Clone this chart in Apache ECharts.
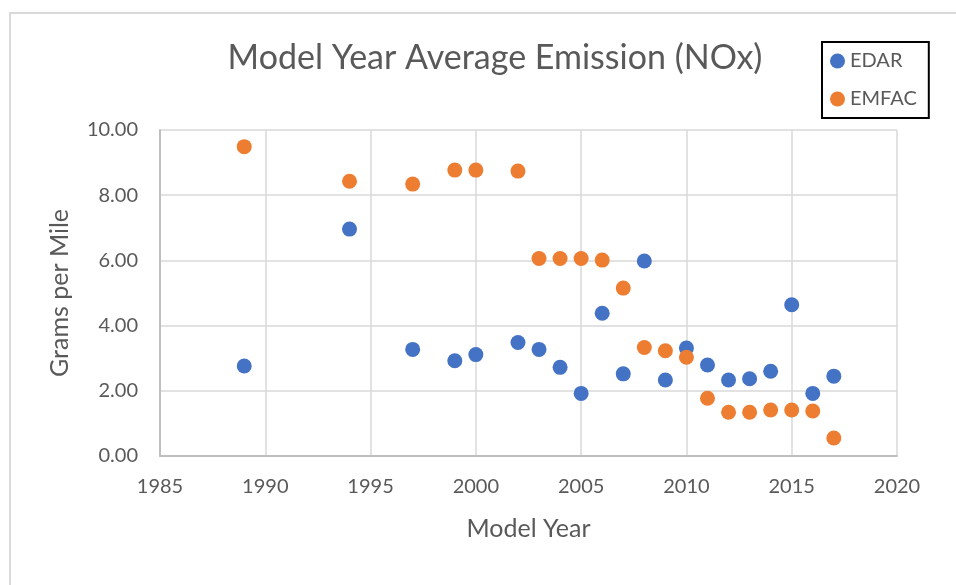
<!DOCTYPE html>
<html>
<head>
<meta charset="utf-8">
<script src="https://cdn.jsdelivr.net/npm/echarts@6/dist/echarts.min.js"></script>
<style>
  html, body { margin: 0; padding: 0; background: #fff; }
  #chart { width: 956px; height: 585px; }
</style>
</head>
<body>
<div id="chart"></div>
<script>
// model years and average NOx (g/mi)
const edarYears = [1989, 1994, 1997, 1999, 2000, 2002, 2003, 2004, 2005, 2006, 2007, 2008, 2009, 2010, 2011, 2012, 2013, 2014, 2015, 2016, 2017]
const edarValues = [2.76, 6.96, 3.27, 2.92, 3.11, 3.48, 3.27, 2.72, 1.92, 4.38, 2.52, 5.98, 2.33, 3.31, 2.79, 2.33, 2.37, 2.60, 4.64, 1.92, 2.45]

const emfacYears = [1989, 1994, 1997, 1999, 2000, 2002, 2003, 2004, 2005, 2006, 2007, 2008, 2009, 2010, 2011, 2012, 2013, 2014, 2015, 2016, 2017]
const emfacValues = [9.49, 8.43, 8.34, 8.77, 8.77, 8.74, 6.06, 6.06, 6.06, 6.01, 5.15, 3.33, 3.23, 3.03, 1.77, 1.34, 1.34, 1.41, 1.41, 1.38, 0.55]

const seriesNames = ['EDAR', 'EMFAC']

const textColor = '#595959'
const fontFamily = 'Lato, "Open Sans", sans-serif'

function pairs(xs, ys) {
  return xs.map((x, i) => [x, ys[i]])
}

const chart = echarts.init(document.getElementById('chart'))
chart.setOption({
  animation: false,
  backgroundColor: '#fff',
  color: ['#4472C4', '#ED7D31'],
  textStyle: { fontFamily: fontFamily },
  title: {
    text: 'Model Year Average Emission (NOx)',
    left: 490,
    top: 36,
    textAlign: 'center',
    textStyle: { color: textColor, fontSize: 34, fontWeight: 'normal', fontFamily: fontFamily }
  },
  legend: {
    data: seriesNames,
    orient: 'vertical',
    left: 822,
    top: 42,
    width: 106,
    padding: [9, 12, 9, 8],
    itemGap: 18,
    itemWidth: 15,
    itemHeight: 15,
    borderColor: '#000',
    borderWidth: 2,
    textStyle: { color: textColor, fontSize: 20, fontFamily: fontFamily }
  },
  graphic: [
    {
      type: 'polyline',
      shape: { points: [[10, 585], [10, 13], [956, 13]] },
      style: { stroke: '#d9d9d9', lineWidth: 2, fill: null },
      silent: true
    }
  ],
  grid: {
    left: 160,
    right: 59,
    top: 130,
    bottom: 129
  },
  xAxis: {
    type: 'value',
    min: 1985,
    max: 2020,
    interval: 5,
    name: 'Model Year',
    nameLocation: 'middle',
    nameGap: 60,
    nameTextStyle: { color: textColor, fontSize: 25, fontFamily: fontFamily },
    axisLine: { show: true, lineStyle: { color: '#bfbfbf', width: 2 } },
    axisTick: { show: false },
    axisLabel: { color: textColor, fontSize: 20, margin: 21, fontFamily: fontFamily, formatter: v => String(v) },
    splitLine: { show: true, lineStyle: { color: '#d9d9d9', width: 1.5 } }
  },
  yAxis: {
    type: 'value',
    min: 0,
    max: 10,
    interval: 2,
    name: 'Grams per Mile',
    nameLocation: 'middle',
    nameGap: 88,
    nameTextStyle: { color: textColor, fontSize: 25, fontFamily: fontFamily },
    axisLine: { show: true, lineStyle: { color: '#bfbfbf', width: 2 } },
    axisTick: { show: false },
    axisLabel: {
      color: textColor,
      fontSize: 20,
      margin: 22,
      fontFamily: fontFamily,
      formatter: v => v.toFixed(2)
    },
    splitLine: { show: true, lineStyle: { color: '#d9d9d9', width: 1.5 } }
  },
  series: [
    {
      name: seriesNames[0],
      type: 'scatter',
      symbol: 'circle',
      symbolSize: 15,
      itemStyle: { opacity: 1 },
      data: pairs(edarYears, edarValues)
    },
    {
      name: seriesNames[1],
      type: 'scatter',
      symbol: 'circle',
      symbolSize: 15,
      itemStyle: { opacity: 1 },
      data: pairs(emfacYears, emfacValues)
    }
  ]
})
</script>
</body>
</html>
